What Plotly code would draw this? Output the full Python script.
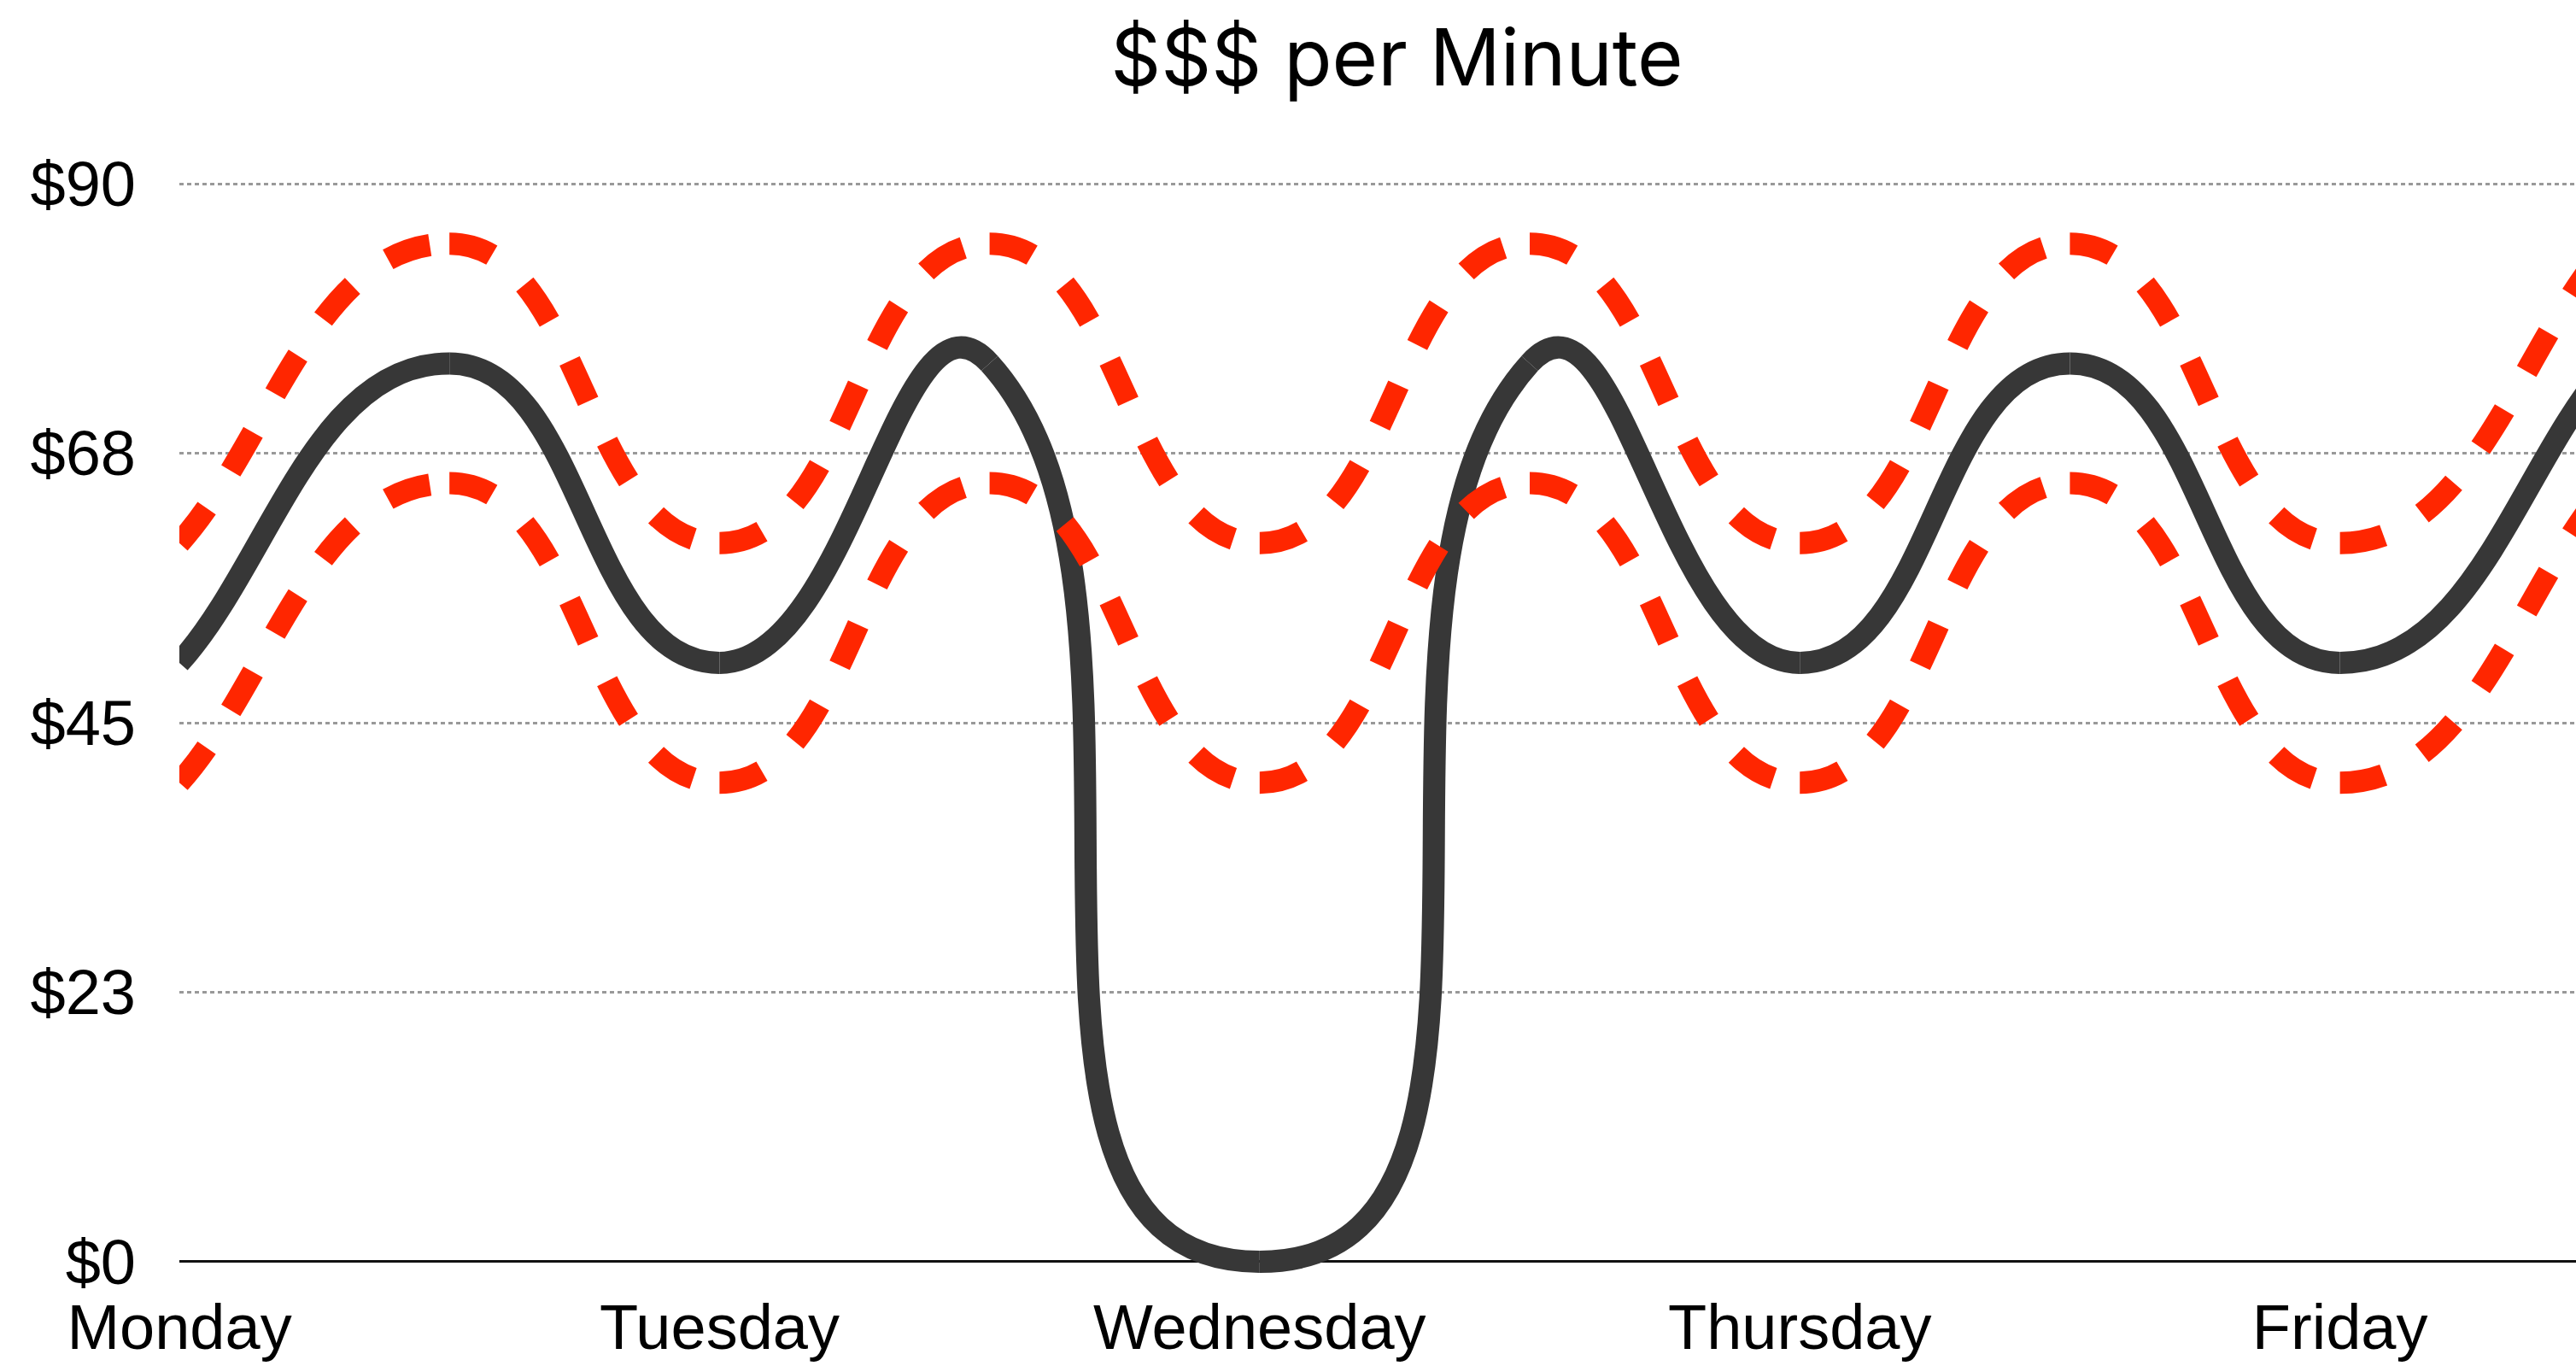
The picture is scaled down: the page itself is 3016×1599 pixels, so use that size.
import math
import plotly.graph_objects as go

# Weekday axis (days from Monday) and the sampled half-day values
days = ["Monday", "Tuesday", "Wednesday", "Thursday", "Friday"]
day_pos = [0, 1, 2, 3, 4]
t = [0, 0.5, 1, 1.5, 2, 2.5, 3, 3.5, 4, 4.5]
actual = [50, 75, 50, 75, 0, 75, 50, 75, 50, 75]
upper = [60, 85, 60, 85, 60, 85, 60, 85, 60, 85]
lower = [40, 65, 40, 65, 40, 65, 40, 65, 40, 65]
y_ticks = [0, 22.5, 45, 67.5, 90]
y_labels = ["$0", "$23", "$45", "$68", "$90"]

W, H = 3016, 1599
MARGIN = dict(l=210, r=0, t=173, b=108)
X_RANGE = [0, 4.437]
Y_RANGE = [-1, 93]

# pixels per data unit, used so the curve tangents are computed in screen space
PX_X = (W - MARGIN["l"] - MARGIN["r"]) / (X_RANGE[1] - X_RANGE[0])
PX_Y = (H - MARGIN["t"] - MARGIN["b"]) / (Y_RANGE[1] - Y_RANGE[0])

RED = "#ff2600"
DARK = "#373737"
FONT = "Liberation Sans, Arial, sans-serif"


def smooth_segments(xs, ys):
    """One cubic Bezier per interval; handles are a third of the chord,
    aligned with the neighbour-to-neighbour direction."""
    pts = [(x * PX_X, y * PX_Y) for x, y in zip(xs, ys)]
    n = len(pts)
    tang = []
    for i in range(n):
        a = pts[max(i - 1, 0)]
        b = pts[min(i + 1, n - 1)]
        dx, dy = b[0] - a[0], b[1] - a[1]
        norm = math.hypot(dx, dy)
        tang.append((dx / norm, dy / norm))
    paths = []
    for i in range(n - 1):
        (x0, y0), (x1, y1) = pts[i], pts[i + 1]
        h = math.hypot(x1 - x0, y1 - y0) / 3
        c1 = (x0 + tang[i][0] * h, y0 + tang[i][1] * h)
        c2 = (x1 - tang[i + 1][0] * h, y1 - tang[i + 1][1] * h)
        d = [(px / PX_X, py / PX_Y) for px, py in [(x0, y0), c1, c2, (x1, y1)]]
        paths.append(
            "M{:.5f},{:.5f} C{:.5f},{:.5f} {:.5f},{:.5f} {:.5f},{:.5f}".format(
                *[v for p in d for v in p]
            )
        )
    return paths


fig = go.Figure()

shapes = []
for series, color, dash in [
    (actual, DARK, "solid"),
    (upper, RED, "52px,52px"),
    (lower, RED, "52px,52px"),
]:
    for p in smooth_segments(t, series):
        shapes.append(
            dict(
                type="path",
                path=p,
                xref="x",
                yref="y",
                line=dict(color=color, width=26, dash=dash),
                layer="above",
            )
        )

fig.update_layout(
    width=W,
    height=H,
    margin=MARGIN,
    paper_bgcolor="white",
    plot_bgcolor="white",
    showlegend=False,
    shapes=shapes,
    title=dict(
        text="$$$ per Minute",
        font=dict(family="Inter, sans-serif", size=92, color="#000"),
        x=0.508,
        xref="paper",
        xanchor="center",
        y=1 - 36 / H,
        yref="container",
        yanchor="top",
        automargin=False,
    ),
    xaxis=dict(
        range=X_RANGE,
        tickvals=day_pos,
        ticktext=days,
        showgrid=False,
        zeroline=False,
        showline=False,
        ticks="",
        automargin=False,
        ticklabelstandoff=13,
        tickfont=dict(family=FONT, size=74, color="#000"),
        fixedrange=True,
    ),
    yaxis=dict(
        range=Y_RANGE,
        tickvals=y_ticks,
        ticktext=y_labels,
        showgrid=True,
        gridcolor="#999999",
        gridwidth=2.5,
        griddash="5px,4px",
        zeroline=True,
        zerolinecolor="#111",
        zerolinewidth=3,
        showline=False,
        ticks="",
        automargin=False,
        ticklabelstandoff=50,
        tickfont=dict(family=FONT, size=74, color="#000"),
        fixedrange=True,
    ),
)

fig.write_html("out.html")
